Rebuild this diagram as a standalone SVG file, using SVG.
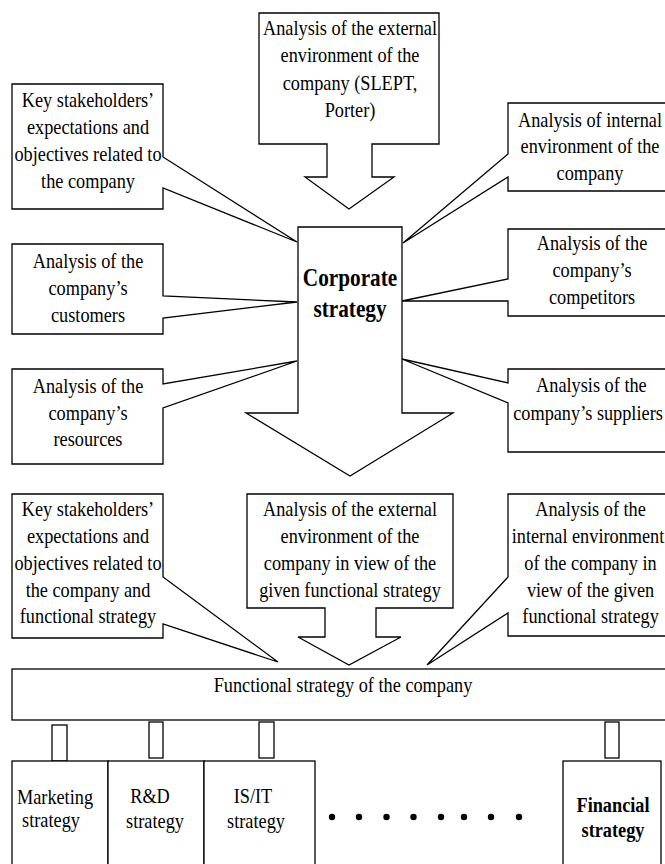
<svg xmlns="http://www.w3.org/2000/svg" width="665" height="864" viewBox="0 0 665 864">
<style>
.s{fill:#fff;stroke:#000;stroke-width:1.3;stroke-linejoin:miter}
.t{font-family:"Liberation Serif","Times New Roman",serif;font-size:21.5px;text-anchor:middle;fill:#000}
.b{font-family:"Liberation Serif","Times New Roman",serif;font-weight:bold;text-anchor:middle;fill:#000}
</style>
<rect width="665" height="864" fill="#fff"/>

<g id="external-env">
<path class="s" d="M259,13 H439 V144 H372 V177 H394 L349,209 L305,177 H327 V144 H259 Z"/>
<text class="t" transform="translate(350,0) scale(0.85,1)"><tspan x="0" y="35">Analysis of the external</tspan><tspan x="0" y="62.5">environment of the</tspan><tspan x="0" y="90">company (SLEPT,</tspan><tspan x="0" y="117.5">Porter)</tspan></text>
</g>

<g id="stakeholders">
<path class="s" d="M12,84 H163 V157 L297,242 L163,188 V209 H12 Z"/>
<text class="t" transform="translate(88,0) scale(0.85,1)"><tspan x="0" y="107">Key stakeholders’</tspan><tspan x="0" y="134">expectations and</tspan><tspan x="0" y="161">objectives related to</tspan><tspan x="0" y="188">the company</tspan></text>
</g>

<g id="internal-env">
<path class="s" d="M508,103 H672 V191 H508 V177 L403,243 L508,154 Z"/>
<text class="t" transform="translate(590,0) scale(0.85,1)"><tspan x="0" y="127">Analysis of internal</tspan><tspan x="0" y="153.5">environment of the</tspan><tspan x="0" y="180">company</tspan></text>
</g>

<g id="customers">
<path class="s" d="M12,244 H163 V296 L297,302 L163,318 V334 H12 Z"/>
<text class="t" transform="translate(88,0) scale(0.85,1)"><tspan x="0" y="268">Analysis of the</tspan><tspan x="0" y="295">company’s</tspan><tspan x="0" y="322">customers</tspan></text>
</g>

<g id="competitors">
<path class="s" d="M508,229 H672 V316 H508 V301 L402,301 L508,279 Z"/>
<text class="t" transform="translate(592,0) scale(0.85,1)"><tspan x="0" y="250">Analysis of the</tspan><tspan x="0" y="277">company’s</tspan><tspan x="0" y="304">competitors</tspan></text>
</g>

<g id="resources">
<path class="s" d="M12,369 H163 V384 L297,361 L163,408 V464 H12 Z"/>
<text class="t" transform="translate(88,0) scale(0.85,1)"><tspan x="0" y="393">Analysis of the</tspan><tspan x="0" y="420">company’s</tspan><tspan x="0" y="446">resources</tspan></text>
</g>

<g id="suppliers">
<path class="s" d="M508,369 H672 V452 H508 V403 L402,359 L508,383 Z"/>
<text class="t" transform="translate(588,0) scale(0.85,1)"><tspan x="4" y="392">Analysis of the</tspan><tspan x="0" y="420">company’s suppliers</tspan></text>
</g>

<g id="corporate-strategy">
<path class="s" d="M298,227 H402 V413 H453 L350,476 L246,413 H298 Z"/>
<text class="b" font-size="25" transform="translate(350,0) scale(0.85,1)"><tspan x="0" y="286">Corporate</tspan><tspan x="0" y="317">strategy</tspan></text>
</g>

<g id="stakeholders-functional">
<path class="s" d="M12,494 H163 V577 L278,662 L163,624 V638 H12 Z"/>
<text class="t" transform="translate(88,0) scale(0.85,1)"><tspan x="0" y="516">Key stakeholders’</tspan><tspan x="0" y="543">expectations and</tspan><tspan x="0" y="570">objectives related to</tspan><tspan x="0" y="597">the company and</tspan><tspan x="0" y="623">functional strategy</tspan></text>
</g>

<g id="external-functional">
<path class="s" d="M247,494 H453 V608 H376 V637 H401 L349,665 L298,637 H325 V608 H247 Z"/>
<text class="t" transform="translate(350,0) scale(0.85,1)"><tspan x="0" y="516">Analysis of the external</tspan><tspan x="0" y="543">environment of the</tspan><tspan x="0" y="570">company in view of the</tspan><tspan x="0" y="597">given functional strategy</tspan></text>
</g>

<g id="internal-functional">
<path class="s" d="M508,494 H672 V636 H508 V613 L427,665 L508,577 Z"/>
<text class="t" transform="translate(588,0) scale(0.85,1)"><tspan x="3" y="516">Analysis of the</tspan><tspan x="0" y="543">internal environment</tspan><tspan x="3" y="570">of the company in</tspan><tspan x="3" y="597">view of the given</tspan><tspan x="3" y="623">functional strategy</tspan></text>
</g>

<g id="functional-strategy">
<rect class="s" x="12" y="669" width="660" height="51"/>
<text class="t" transform="translate(343,0) scale(0.85,1)"><tspan x="0" y="692">Functional strategy of the company</tspan></text>
</g>

<g id="connectors">
<rect class="s" x="52" y="725" width="15" height="36"/>
<rect class="s" x="149" y="722" width="14" height="36"/>
<rect class="s" x="259" y="722" width="15" height="36"/>
<rect class="s" x="605" y="722" width="14" height="36"/>
</g>

<g id="marketing">
<rect class="s" x="12" y="761" width="96" height="110"/>
<text class="t" transform="translate(55,0) scale(0.85,1)"><tspan x="0" y="804">Marketing</tspan></text>
<text class="t" transform="translate(51,0) scale(0.85,1)"><tspan x="0" y="827">strategy</tspan></text>
</g>

<g id="rd">
<rect class="s" x="108" y="761" width="96" height="110"/>
<text class="t" transform="translate(150,0) scale(0.85,1)"><tspan x="0" y="803">R&amp;D</tspan></text>
<text class="t" transform="translate(155,0) scale(0.85,1)"><tspan x="0" y="828">strategy</tspan></text>
</g>

<g id="isit">
<rect class="s" x="204" y="761" width="111" height="110"/>
<text class="t" transform="translate(253,0) scale(0.85,1)"><tspan x="0" y="803">IS/IT</tspan></text>
<text class="t" transform="translate(256,0) scale(0.85,1)"><tspan x="0" y="828">strategy</tspan></text>
</g>

<g id="ellipsis">
<circle cx="332" cy="817" r="3.2"/>
<circle cx="359" cy="817" r="3.2"/>
<circle cx="386.5" cy="817" r="3.2"/>
<circle cx="413.5" cy="817" r="3.2"/>
<circle cx="441" cy="817" r="3.2"/>
<circle cx="464" cy="817" r="3.2"/>
<circle cx="491" cy="817" r="3.2"/>
<circle cx="519" cy="817" r="3.2"/>
</g>

<g id="financial">
<rect class="s" x="563" y="761" width="98" height="110"/>
<text class="b" font-size="21.5" transform="translate(613,0) scale(0.85,1)"><tspan x="0" y="812">Financial</tspan><tspan x="0" y="837">strategy</tspan></text>
</g>
</svg>
